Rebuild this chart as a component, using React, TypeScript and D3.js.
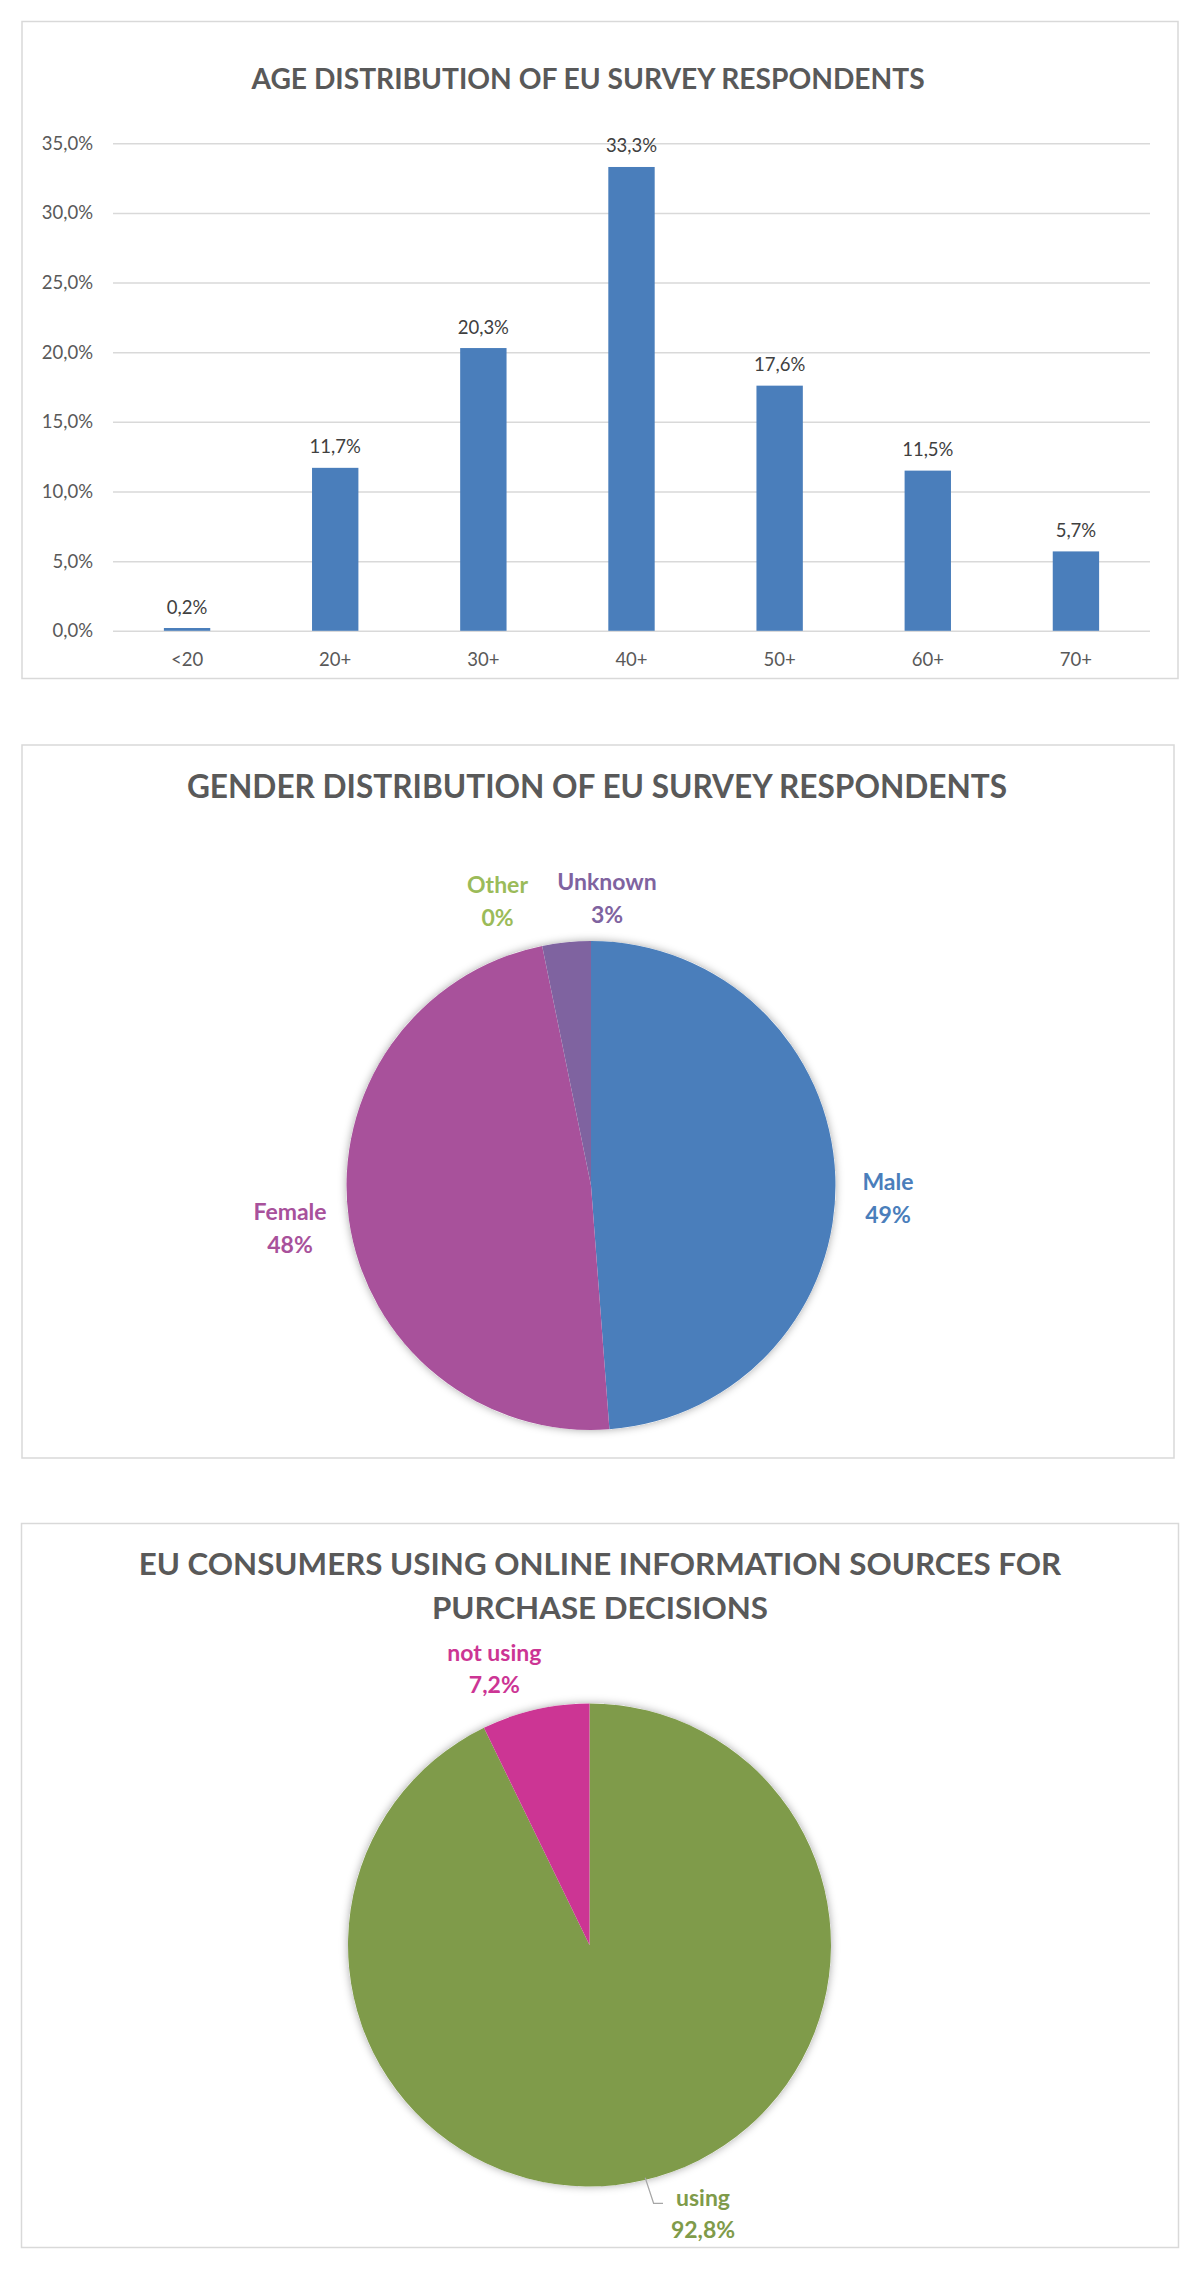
import * as d3 from "d3";
import { useEffect, useRef } from "react";

// age chart data
const ageGroups = ["<20", "20+", "30+", "40+", "50+", "60+", "70+"];
const ageShares = [0.2, 11.7, 20.3, 33.3, 17.6, 11.5, 5.7];
const ageTicks = [0, 5, 10, 15, 20, 25, 30, 35];

// gender pie data
const genderNames = ["Male", "Female", "Other", "Unknown"];
const genderShares = [48.8, 48.0, 0, 3.2];
const genderColors = ["#4a7ebb", "#a8519b", "#9bbb59", "#7f63a0"];

// online sources pie data
const usageNames = ["using", "not using"];
const usageShares = [92.8, 7.2];
const usageColors = ["#7f9b4a", "#cc3594"];

const FONT = "Lato, 'Open Sans', sans-serif";
const comma = (v: number, digits: number) => v.toFixed(digits).replace(".", ",");

const App = () => {
  const svgRef = useRef<SVGSVGElement>(null);

  useEffect(() => {
    if (!svgRef.current) return;
    const svg = d3.select(svgRef.current);
    svg.selectAll("*").remove();

    const defs = svg.append("defs");
    defs
      .append("filter")
      .attr("id", "pieShadow")
      .attr("x", "-20%")
      .attr("y", "-20%")
      .attr("width", "140%")
      .attr("height", "140%")
      .append("feDropShadow")
      .attr("dx", 0)
      .attr("dy", 0)
      .attr("stdDeviation", 4)
      .attr("flood-color", "#000")
      .attr("flood-opacity", 0.35);

    // chart frames
    const frames = [
      { x: 22, y: 21.5, w: 1156, h: 657 },
      { x: 22, y: 745, w: 1152, h: 713 },
      { x: 21.5, y: 1523.5, w: 1157, h: 724 },
    ];
    svg
      .append("g")
      .selectAll()
      .data(frames)
      .join("rect")
      .attr("x", (d) => d.x)
      .attr("y", (d) => d.y)
      .attr("width", (d) => d.w)
      .attr("height", (d) => d.h)
      .attr("fill", "#fff")
      .attr("stroke", "#d9d9d9")
      .attr("stroke-width", 1.5);

    // ---------- Age distribution bar chart ----------
    const marginLeft = 113;
    const plotRight = 1150;
    const plotTop = 143.3;
    const plotBottom = 630.8;

    const x = d3.scaleBand().domain(ageGroups).range([marginLeft, plotRight]).padding(0);
    const y = d3.scaleLinear().domain([0, 35]).range([plotBottom, plotTop]);
    const barWidth = x.bandwidth() * 0.313;

    svg
      .append("text")
      .attr("x", 588)
      .attr("y", 89.3)
      .attr("text-anchor", "middle")
      .attr("font-family", FONT)
      .attr("font-weight", 700)
      .attr("font-size", 28.2)
      .attr("fill", "#595959")
      .text("AGE DISTRIBUTION OF EU SURVEY RESPONDENTS");

    // gridlines + y labels
    const yAxis = svg
      .append("g")
      .attr("transform", `translate(${marginLeft},0)`)
      .call(
        d3
          .axisLeft(y)
          .tickValues(ageTicks)
          .tickSize(-(plotRight - marginLeft))
          .tickPadding(20)
          .tickFormat((d) => `${comma(d as number, 1)}%`)
      );
    yAxis.select(".domain").remove();
    yAxis.selectAll(".tick line").attr("stroke", "#d9d9d9").attr("stroke-width", 1.5);
    yAxis
      .selectAll(".tick text")
      .attr("font-family", FONT)
      .attr("font-size", 18.5)
      .attr("fill", "#595959");

    svg
      .append("g")
      .attr("fill", "#4a7ebb")
      .selectAll()
      .data(ageShares)
      .join("rect")
      .attr("x", (_, i) => x(ageGroups[i])! + (x.bandwidth() - barWidth) / 2)
      .attr("y", (d) => y(d))
      .attr("width", barWidth)
      .attr("height", (d) => y(0) - y(d));

    svg
      .append("g")
      .attr("font-family", FONT)
      .attr("font-size", 18.5)
      .attr("fill", "#404040")
      .attr("text-anchor", "middle")
      .selectAll()
      .data(ageShares)
      .join("text")
      .attr("x", (_, i) => x(ageGroups[i])! + x.bandwidth() / 2)
      .attr("y", (d) => y(d) - 14.5)
      .text((d) => `${comma(d, 1)}%`);

    svg
      .append("g")
      .attr("font-family", FONT)
      .attr("font-size", 18.5)
      .attr("fill", "#595959")
      .attr("text-anchor", "middle")
      .selectAll()
      .data(ageGroups)
      .join("text")
      .attr("x", (d) => x(d)! + x.bandwidth() / 2)
      .attr("y", plotBottom + 35)
      .text((d) => d);

    // ---------- pies ----------
    const pie = d3
      .pie<number>()
      .sort(null)
      .value((d) => d);

    const drawPie = (
      cx: number,
      cy: number,
      r: number,
      values: number[],
      colors: string[]
    ) => {
      const arc = d3.arc<d3.PieArcDatum<number>>().innerRadius(0).outerRadius(r);
      const g = svg.append("g").attr("transform", `translate(${cx},${cy})`);
      g.append("circle").attr("r", r).attr("fill", "#fff").attr("filter", "url(#pieShadow)");
      g.selectAll()
        .data(pie(values).filter((d) => d.value > 0))
        .join("path")
        .attr("d", arc)
        .attr("fill", (d) => colors[d.index]);
      return g;
    };

    const drawLabel = (
      g: d3.Selection<SVGGElement, unknown, null, undefined>,
      dx: number,
      dy: number,
      lines: string[],
      color: string,
      gap: number
    ) => {
      const t = g
        .append("text")
        .attr("text-anchor", "middle")
        .attr("font-family", FONT)
        .attr("font-weight", 700)
        .attr("font-size", 23)
        .attr("fill", color);
      lines.forEach((line, i) => {
        t.append("tspan")
          .attr("x", dx)
          .attr("y", dy + i * gap)
          .text(line);
      });
    };

    // Gender
    svg
      .append("text")
      .attr("x", 597)
      .attr("y", 797.6)
      .attr("text-anchor", "middle")
      .attr("font-family", FONT)
      .attr("font-weight", 700)
      .attr("font-size", 31.6)
      .attr("fill", "#595959")
      .text("GENDER DISTRIBUTION OF EU SURVEY RESPONDENTS");

    const gGender = drawPie(591, 1185.5, 244.5, genderShares, genderColors);
    const genderOffsets = [
      [297, 4.5],
      [-301, 34.5],
      [-93.5, -292.5],
      [16, -296],
    ];
    genderNames.forEach((name, i) => {
      drawLabel(
        gGender,
        genderOffsets[i][0],
        genderOffsets[i][1],
        [name, `${d3.format(".0f")(genderShares[i])}%`],
        genderColors[i],
        33
      );
    });

    // Online information sources
    const title3 = svg
      .append("text")
      .attr("text-anchor", "middle")
      .attr("font-family", FONT)
      .attr("font-weight", 700)
      .attr("font-size", 31.3)
      .attr("fill", "#595959");
    ["EU CONSUMERS USING ONLINE INFORMATION SOURCES FOR", "PURCHASE DECISIONS"].forEach(
      (line, i) => {
        title3
          .append("tspan")
          .attr("x", 600)
          .attr("y", 1575 + i * 44.4)
          .text(line);
      }
    );

    const gUsage = drawPie(589.5, 1945, 241.5, usageShares, usageColors);
    const usageOffsets = [
      [113.5, 260.8],
      [-95.2, -284.4],
    ];
    usageNames.forEach((name, i) => {
      drawLabel(
        gUsage,
        usageOffsets[i][0],
        usageOffsets[i][1],
        [name, `${comma(usageShares[i], 1)}%`],
        usageColors[i],
        32
      );
    });
    gUsage
      .append("path")
      .attr("d", d3.line()([
        [55.7, 232.8],
        [64.1, 258.3],
        [73.5, 258.3],
      ]))
      .attr("fill", "none")
      .attr("stroke", "#a6a6a6")
      .attr("stroke-width", 1.2);
  }, []);

  return (
    <svg
      ref={svgRef}
      width={1200}
      height={2270}
      style={{ position: "absolute", left: 0, top: 0, background: "#fff" }}
    ></svg>
  );
};

export default App;
